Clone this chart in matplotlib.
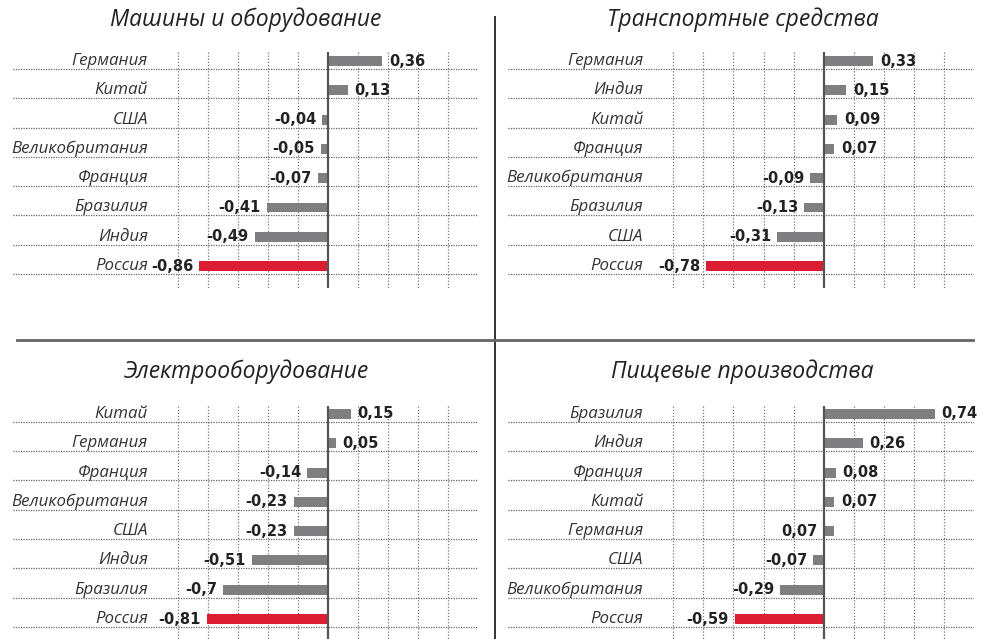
import matplotlib
matplotlib.use("Agg")
import matplotlib.pyplot as plt

# panel data, rows listed top to bottom
TITLES = ["Машины и оборудование", "Транспортные средства",
          "Электрооборудование", "Пищевые производства"]

MACH_COUNTRIES = ["Германия", "Китай", "США", "Великобритания", "Франция",
                  "Бразилия", "Индия", "Россия"]
MACH_VALUES = [0.36, 0.13, -0.04, -0.05, -0.07, -0.41, -0.49, -0.86]

TRANS_COUNTRIES = ["Германия", "Индия", "Китай", "Франция", "Великобритания",
                   "Бразилия", "США", "Россия"]
TRANS_VALUES = [0.33, 0.15, 0.09, 0.07, -0.09, -0.13, -0.31, -0.78]

ELEC_COUNTRIES = ["Китай", "Германия", "Франция", "Великобритания", "США",
                  "Индия", "Бразилия", "Россия"]
ELEC_VALUES = [0.15, 0.05, -0.14, -0.23, -0.23, -0.51, -0.7, -0.81]

FOOD_COUNTRIES = ["Бразилия", "Индия", "Франция", "Китай", "Германия", "США",
                  "Великобритания", "Россия"]
FOOD_VALUES = [0.74, 0.26, 0.08, 0.07, 0.07, -0.07, -0.29, -0.59]

GRID_TICKS = [-1.0, -0.8, -0.6, -0.4, -0.2, 0.2, 0.4, 0.6, 0.8]

GREY = "#7f7f82"
RED = "#db1d34"
W, H = 985, 639


def fmt(v):
    return f"{v:g}".replace(".", ",")


def draw_panel(ax, countries, values, ylim, label_left=()):
    n = len(values)
    ax.set_xlim(-2.1, 1.0)
    ax.set_ylim(*ylim)
    ax.axis("off")
    colors = [RED if c == "Россия" else GREY for c in countries]
    ax.barh(range(n), values, height=0.34, color=colors, zorder=3)
    ax.vlines(GRID_TICKS, ylim[1], ylim[0], colors="#777777",
              linestyles=(0, (1, 1.5)), linewidth=0.9, zorder=1)
    ax.vlines([0], ylim[1], ylim[0], colors="#555555", linewidth=1.6, zorder=4)
    ax.hlines([i + 0.27 for i in range(n)], -2.1, 1.0, colors="#666666",
              linestyles=(0, (1, 1)), linewidth=0.9, zorder=1)
    for i, (c, v) in enumerate(zip(countries, values)):
        ax.text(-1.2, i, c, ha="right", va="center", fontsize=12.2,
                family="Open Sans", style="italic", color="#333333")
        if v >= 0 and i not in label_left:
            ax.text(v + 0.045, i, fmt(v), ha="left", va="center", fontsize=10.5,
                    fontweight="bold", color="#222222", zorder=5)
        else:
            x = min(v, 0) - 0.04
            ax.text(x, i, fmt(v), ha="right", va="center", fontsize=10.5,
                    fontweight="bold", color="#222222", zorder=5)


fig = plt.figure(figsize=(W / 100, H / 100), dpi=100)

top_ylim = (7.75, -0.31)
bot_ylim = (7.68, -0.27)
panels = [
    ((13, 52, 478, 288), MACH_COUNTRIES, MACH_VALUES, top_ylim, ()),
    ((508, 52, 974, 288), TRANS_COUNTRIES, TRANS_VALUES, top_ylim, ()),
    ((13, 406, 478, 639), ELEC_COUNTRIES, ELEC_VALUES, bot_ylim, ()),
    ((508, 406, 974, 639), FOOD_COUNTRIES, FOOD_VALUES, bot_ylim, (4,)),
]
for (x0, y0, x1, y1), cs, vs, yl, ll in panels:
    ax = fig.add_axes([x0 / W, 1 - y1 / H, (x1 - x0) / W, (y1 - y0) / H])
    draw_panel(ax, cs, vs, yl, ll)

title_pos = [(246, 20), (743, 20), (246, 372), (742, 372)]
for t, (tx, ty) in zip(TITLES, title_pos):
    fig.text(tx / W, 1 - ty / H, t, ha="center", va="center", fontsize=16.5,
             family="Open Sans", style="italic", color="#222222")

# divider lines between panels
fig.add_artist(plt.Line2D([495 / W, 495 / W], [1 - 17 / H, 0], color="#333333", linewidth=1.4))
fig.add_artist(plt.Line2D([17 / W, 973 / W], [1 - 340 / H, 1 - 340 / H], color="#666666", linewidth=2))

fig.savefig("out.png", dpi=100)
